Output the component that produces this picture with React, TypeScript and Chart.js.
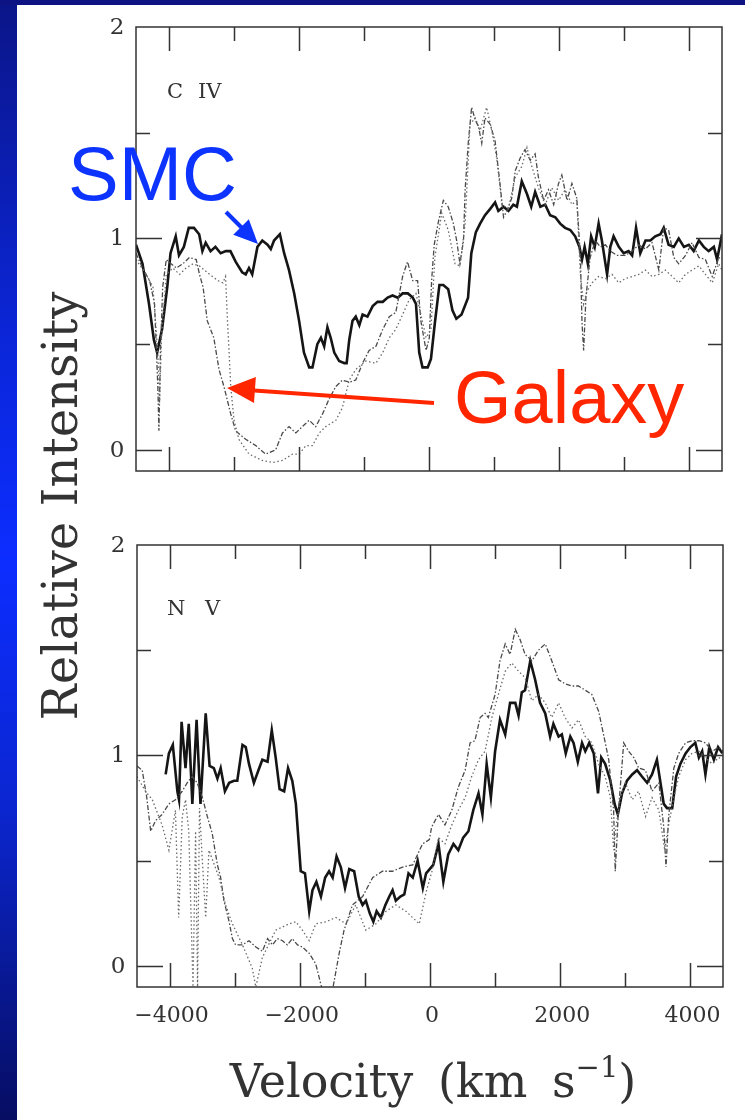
import React, { useEffect, useRef } from "react";
import { Chart, registerables } from "chart.js";

Chart.register(...registerables);

// ---------- axis ticks ----------
const xTickValues = [-4000, -3000, -2000, -1000, 0, 1000, 2000, 3000, 4000];
const xTickLabels = ["\u22124000", "", "\u22122000", "", "0", "", "2000", "", "4000"];
const yTickValues = [0, 0.5, 1, 1.5];
const yTickLabels = ["0", "1", "2"];
const yLabelValues = [0, 1, 2];

// ---------- C IV panel ----------
const civSmc: [number, number][] = [
  [-4500, 0.97], [-4400, 0.88], [-4300, 0.69], [-4225, 0.52], [-4175, 0.46], [-4100, 0.57], [-4020, 0.77],
  [-3970, 0.93], [-3890, 1.01], [-3840, 0.92], [-3765, 0.96], [-3690, 1.05], [-3610, 1.05], [-3530, 1.02],
  [-3480, 0.94], [-3430, 0.98], [-3355, 0.94], [-3280, 0.96], [-3200, 0.93], [-3120, 0.94], [-3050, 0.94],
  [-2970, 0.89], [-2870, 0.84], [-2815, 0.83], [-2765, 0.86], [-2715, 0.83], [-2635, 0.96], [-2560, 0.99],
  [-2480, 0.97], [-2430, 0.95], [-2380, 0.99], [-2290, 1.02], [-2225, 0.93], [-2150, 0.85], [-2070, 0.74],
  [-1995, 0.61], [-1920, 0.46], [-1840, 0.39], [-1790, 0.39], [-1715, 0.5], [-1660, 0.53], [-1610, 0.49],
  [-1560, 0.58], [-1510, 0.53], [-1455, 0.46], [-1380, 0.42], [-1300, 0.41], [-1265, 0.41], [-1225, 0.52],
  [-1175, 0.61], [-1125, 0.63], [-1070, 0.59], [-1020, 0.64], [-945, 0.63], [-865, 0.68], [-790, 0.7],
  [-710, 0.7], [-635, 0.72], [-560, 0.73], [-480, 0.72], [-405, 0.74], [-325, 0.74], [-250, 0.72],
  [-200, 0.69], [-150, 0.46], [-100, 0.39], [-20, 0.39], [30, 0.43], [90, 0.6], [160, 0.78], [220, 0.78],
  [295, 0.76], [360, 0.66], [420, 0.62], [500, 0.64], [600, 0.72], [650, 0.93], [720, 1.03], [785, 1.07],
  [860, 1.11], [940, 1.14], [1015, 1.17], [1065, 1.13], [1145, 1.15], [1220, 1.13], [1295, 1.16],
  [1350, 1.15], [1425, 1.27], [1505, 1.21], [1570, 1.15], [1630, 1.22], [1710, 1.15], [1785, 1.16],
  [1860, 1.11], [1940, 1.1], [2015, 1.07], [2090, 1.05], [2170, 1.04], [2245, 1.01], [2310, 0.96],
  [2350, 0.9], [2390, 0.96], [2440, 0.88], [2490, 1.01], [2545, 0.96], [2605, 1.07], [2655, 0.99],
  [2735, 0.83], [2785, 0.96], [2835, 1.01], [2915, 0.96], [2990, 0.93], [3065, 0.94], [3120, 0.92],
  [3180, 1.05], [3245, 0.93], [3325, 0.99], [3400, 0.99], [3475, 1.01], [3555, 1.02], [3605, 1.05],
  [3680, 0.97], [3760, 0.96], [3835, 1.0], [3915, 0.96], [3990, 0.97], [4065, 0.94], [4145, 0.99],
  [4220, 0.96], [4295, 0.94], [4375, 0.96], [4425, 0.9], [4500, 1.02],
];

const civGalaxyDashed: [number, number][] = [
  [-4500, 0.93], [-4400, 0.86], [-4290, 0.8], [-4215, 0.69], [-4165, 0.3], [-4148, 0.09], [-4125, 0.46],
  [-4090, 0.77], [-4035, 0.9], [-3960, 0.88], [-3880, 0.86], [-3780, 0.88], [-3680, 0.91], [-3575, 0.9],
  [-3525, 0.83], [-3470, 0.77], [-3405, 0.61], [-3305, 0.53], [-3225, 0.38], [-3150, 0.3], [-3045, 0.17],
  [-2970, 0.09], [-2815, 0.05], [-2660, 0.02], [-2510, -0.02], [-2355, 0.0], [-2250, 0.08], [-2150, 0.11],
  [-2045, 0.08], [-1945, 0.11], [-1840, 0.14], [-1740, 0.11], [-1635, 0.17], [-1535, 0.24], [-1430, 0.3],
  [-1330, 0.33], [-1225, 0.32], [-1125, 0.33], [-1020, 0.41], [-920, 0.47], [-815, 0.49], [-710, 0.57],
  [-610, 0.63], [-510, 0.65], [-405, 0.82], [-330, 0.89], [-250, 0.8], [-175, 0.8], [-125, 0.61],
  [-45, 0.47], [5, 0.53], [40, 0.8], [80, 0.97], [145, 1.08], [220, 1.18], [295, 1.15], [375, 1.07],
  [425, 0.99], [475, 0.88], [530, 0.99], [555, 1.23], [605, 1.46], [655, 1.62], [710, 1.56], [760, 1.53],
  [810, 1.45], [860, 1.57], [940, 1.54], [1015, 1.46], [1090, 1.26], [1145, 1.1], [1195, 1.13],
  [1270, 1.19], [1325, 1.32], [1400, 1.38], [1475, 1.42], [1555, 1.37], [1630, 1.4], [1680, 1.29],
  [1760, 1.18], [1835, 1.23], [1915, 1.16], [1990, 1.26], [2040, 1.3], [2120, 1.18], [2195, 1.26],
  [2270, 1.19], [2325, 0.91], [2350, 0.6], [2375, 0.47], [2410, 0.72], [2475, 0.91], [2555, 0.99],
  [2630, 0.96], [2710, 0.97], [2785, 0.94], [2885, 0.92], [3015, 0.92], [3120, 0.94], [3220, 0.97],
  [3325, 0.95], [3425, 0.98], [3530, 0.85], [3605, 1.05], [3680, 1.04], [3760, 0.91], [3835, 0.88],
  [3940, 0.92], [4040, 0.98], [4145, 0.91], [4245, 0.9], [4350, 0.82], [4450, 0.91], [4500, 0.9],
];

const civGalaxyDotted: [number, number][] = [
  [-4500, 0.9], [-4345, 0.83], [-4240, 0.77], [-4165, 0.46], [-4138, 0.22], [-4108, 0.53], [-4035, 0.83],
  [-3935, 0.86], [-3830, 0.83], [-3730, 0.86], [-3625, 0.88], [-3525, 0.87], [-3370, 0.83], [-3240, 0.8],
  [-3165, 0.79], [-3125, 0.82], [-3095, 0.61], [-3070, 0.46], [-3045, 0.3], [-2995, 0.14], [-2920, 0.05],
  [-2765, -0.02], [-2560, -0.05], [-2405, -0.06], [-2250, -0.05], [-2095, -0.02], [-1995, -0.02],
  [-1890, 0.02], [-1790, 0.02], [-1685, 0.08], [-1585, 0.11], [-1430, 0.14], [-1330, 0.2], [-1225, 0.33],
  [-1125, 0.38], [-970, 0.42], [-815, 0.41], [-710, 0.46], [-610, 0.53], [-510, 0.57], [-405, 0.64],
  [-305, 0.71], [-200, 0.74], [-125, 0.64], [-45, 0.53], [30, 0.57], [90, 0.91], [195, 1.12], [295, 1.04],
  [400, 0.88], [475, 0.87], [555, 1.07], [630, 1.54], [710, 1.57], [785, 1.51], [885, 1.62], [965, 1.51],
  [1040, 1.38], [1120, 1.16], [1220, 1.14], [1325, 1.29], [1425, 1.34], [1505, 1.43], [1580, 1.34],
  [1680, 1.24], [1785, 1.16], [1885, 1.24], [1990, 1.18], [2090, 1.23], [2195, 1.16], [2270, 1.18],
  [2325, 0.83], [2375, 0.69], [2425, 0.75], [2505, 0.79], [2605, 0.82], [2710, 0.81], [2810, 0.83],
  [2915, 0.79], [3015, 0.81], [3120, 0.82], [3220, 0.83], [3325, 0.85], [3425, 0.82], [3530, 0.83],
  [3630, 0.85], [3735, 0.82], [3835, 0.79], [3940, 0.83], [4040, 0.85], [4145, 0.87], [4245, 0.83],
  [4350, 0.79], [4450, 0.88], [4500, 0.85],
];

// ---------- N V panel ----------
const nvSmc: [number, number][] = [
  [-4060, 0.91], [-4010, 1.01], [-3950, 1.05], [-3880, 0.83], [-3855, 0.79], [-3815, 1.16], [-3755, 0.94],
  [-3705, 1.15], [-3650, 0.77], [-3585, 1.17], [-3525, 0.77], [-3445, 1.2], [-3385, 0.95], [-3320, 0.94],
  [-3265, 0.89], [-3215, 0.94], [-3150, 0.83], [-3085, 0.87], [-3010, 0.88], [-2960, 0.88], [-2880, 1.05],
  [-2830, 1.04], [-2780, 0.96], [-2705, 0.87], [-2635, 0.93], [-2575, 0.98], [-2495, 0.97], [-2430, 1.12],
  [-2370, 0.99], [-2310, 0.84], [-2240, 0.83], [-2180, 0.94], [-2115, 0.88], [-2060, 0.77], [-1985, 0.45],
  [-1920, 0.44], [-1855, 0.26], [-1805, 0.36], [-1745, 0.4], [-1675, 0.33], [-1610, 0.42], [-1550, 0.45],
  [-1495, 0.42], [-1435, 0.52], [-1370, 0.47], [-1305, 0.37], [-1240, 0.46], [-1165, 0.45], [-1095, 0.33],
  [-1035, 0.29], [-985, 0.31], [-925, 0.25], [-870, 0.21], [-820, 0.26], [-755, 0.23], [-685, 0.29],
  [-625, 0.33], [-575, 0.36], [-525, 0.31], [-455, 0.33], [-395, 0.34], [-330, 0.44], [-265, 0.42],
  [-190, 0.5], [-110, 0.37], [-60, 0.44], [50, 0.48], [130, 0.58], [205, 0.4], [280, 0.53], [360, 0.58],
  [435, 0.55], [510, 0.61], [590, 0.64], [665, 0.74], [745, 0.82], [805, 0.72], [870, 0.96], [935, 0.8],
  [1000, 1.02], [1075, 1.17], [1155, 1.1], [1230, 1.25], [1310, 1.25], [1360, 1.19], [1410, 1.3],
  [1460, 1.31], [1540, 1.45], [1615, 1.36], [1690, 1.25], [1770, 1.2], [1845, 1.09], [1895, 1.15],
  [1975, 1.09], [2025, 1.1], [2085, 1.01], [2155, 1.09], [2205, 1.06], [2270, 0.97], [2335, 1.06],
  [2385, 1.02], [2445, 1.06], [2515, 1.01], [2580, 0.82], [2630, 0.99], [2690, 0.96], [2770, 0.88],
  [2835, 0.77], [2885, 0.72], [2950, 0.82], [3025, 0.88], [3105, 0.91], [3180, 0.93], [3255, 0.9],
  [3335, 0.87], [3410, 0.91], [3485, 0.98], [3540, 0.87], [3590, 0.77], [3640, 0.75], [3720, 0.75],
  [3780, 0.9], [3845, 0.96], [3925, 1.01], [4000, 1.04], [4075, 1.06], [4130, 0.99], [4180, 1.02],
  [4230, 0.91], [4290, 1.04], [4360, 0.98], [4425, 1.04], [4490, 1.01],
];

const nvGalaxyDashed: [number, number][] = [
  [-4500, 0.95], [-4420, 0.93], [-4350, 0.8], [-4290, 0.64], [-4215, 0.69], [-4115, 0.72], [-4010, 0.77],
  [-3910, 0.79], [-3805, 0.83], [-3730, 0.87], [-3650, 0.9], [-3575, 0.87], [-3495, 0.8], [-3420, 0.71],
  [-3345, 0.63], [-3265, 0.48], [-3215, 0.42], [-3165, 0.31], [-3085, 0.21], [-3035, 0.13], [-2985, 0.1],
  [-2880, 0.1], [-2780, 0.12], [-2675, 0.09], [-2575, 0.07], [-2495, 0.13], [-2420, 0.1], [-2345, 0.13],
  [-2265, 0.12], [-2190, 0.1], [-2115, 0.13], [-2035, 0.1], [-1960, 0.09], [-1855, 0.06], [-1755, 0.01],
  [-1650, -0.12], [-1500, -0.12], [-1395, 0.06], [-1320, 0.17], [-1190, 0.29], [-1035, 0.33], [-880, 0.42],
  [-730, 0.45], [-575, 0.45], [-420, 0.47], [-265, 0.48], [-115, 0.58], [-10, 0.6], [25, 0.66], [130, 0.72],
  [230, 0.67], [335, 0.74], [435, 0.85], [540, 0.93], [615, 1.06], [690, 1.07], [770, 1.18], [845, 1.2],
  [895, 1.18], [1000, 1.29], [1075, 1.45], [1155, 1.53], [1230, 1.48], [1310, 1.6], [1385, 1.55],
  [1460, 1.48], [1565, 1.45], [1665, 1.5], [1770, 1.53], [1870, 1.45], [1975, 1.36], [2075, 1.34],
  [2180, 1.33], [2280, 1.33], [2385, 1.31], [2485, 1.29], [2590, 1.21], [2665, 1.1], [2745, 0.98],
  [2820, 0.74], [2845, 0.45], [2895, 0.74], [2975, 1.06], [3050, 1.02], [3130, 0.99], [3205, 0.94],
  [3310, 0.93], [3410, 0.83], [3515, 0.87], [3590, 0.66], [3625, 0.47], [3665, 0.71], [3745, 0.94],
  [3820, 1.01], [3925, 1.06], [4025, 1.07], [4130, 1.07], [4230, 1.06], [4335, 1.02], [4435, 1.04],
  [4500, 1.02],
];

const nvGalaxyDotted: [number, number][] = [
  [-4500, 0.9], [-4370, 0.83], [-4265, 0.79], [-4115, 0.67], [-4010, 0.55], [-3910, 0.74], [-3860, 0.23],
  [-3805, 0.71], [-3755, 0.79], [-3705, 0.64], [-3640, -0.1], [-3600, 0.64], [-3570, -0.1], [-3540, 0.75],
  [-3500, 0.52], [-3445, 0.23], [-3395, 0.55], [-3240, 0.42], [-3140, 0.29], [-3035, 0.2], [-2880, 0.1],
  [-2730, -0.01], [-2675, -0.1], [-2575, 0.04], [-2370, 0.17], [-2165, 0.2], [-2060, 0.21], [-1960, 0.17],
  [-1855, 0.12], [-1755, 0.2], [-1600, 0.21], [-1445, 0.23], [-1290, 0.2], [-1140, 0.29], [-985, 0.17],
  [-830, 0.2], [-675, 0.26], [-525, 0.29], [-370, 0.26], [-165, 0.2], [-60, 0.35], [30, 0.45], [130, 0.61],
  [230, 0.58], [335, 0.67], [435, 0.74], [540, 0.8], [640, 0.9], [745, 0.98], [845, 1.02], [950, 1.18],
  [1050, 1.29], [1155, 1.4], [1255, 1.44], [1360, 1.4], [1460, 1.37], [1565, 1.26], [1665, 1.29],
  [1770, 1.25], [1870, 1.18], [1975, 1.25], [2075, 1.18], [2180, 1.13], [2280, 1.17], [2385, 1.09],
  [2485, 1.06], [2590, 0.96], [2690, 0.9], [2770, 0.8], [2820, 0.55], [2855, 0.66], [2925, 0.8],
  [3000, 0.87], [3105, 0.79], [3205, 0.83], [3310, 0.71], [3410, 0.8], [3515, 0.74], [3605, 0.55],
  [3665, 0.67], [3745, 0.8], [3820, 0.9], [3925, 0.98], [4025, 1.01], [4130, 1.02], [4230, 0.99],
  [4335, 0.96], [4435, 0.99], [4500, 0.98],
];

const SERIF = '"DejaVu Serif", "Liberation Serif", serif';
const INK = "#333";

const framePlugin = {
  id: "frame",
  afterDatasetsDraw(chart: any, _args: any, opts: any) {
    const { ctx, chartArea: a, scales } = chart;
    const xs = scales.x;
    const ys = scales.y;
    ctx.save();
    ctx.strokeStyle = INK;
    ctx.lineWidth = 1.5;
    ctx.setLineDash([]);
    ctx.strokeRect(a.left, a.top, a.right - a.left, a.bottom - a.top);
    ctx.beginPath();
    xTickValues.forEach((v) => {
      const px = Math.round(xs.getPixelForValue(v)) + 0.5;
      const len = v % 2000 === 0 ? 24 : 14;
      ctx.moveTo(px, a.top);
      ctx.lineTo(px, a.top + len);
      ctx.moveTo(px, a.bottom);
      ctx.lineTo(px, a.bottom - len);
    });
    yTickValues.forEach((v) => {
      const py = Math.round(ys.getPixelForValue(v)) + 0.5;
      const len = Number.isInteger(v) ? 26 : 14;
      ctx.moveTo(a.left, py);
      ctx.lineTo(a.left + len, py);
      ctx.moveTo(a.right, py);
      ctx.lineTo(a.right - len, py);
    });
    ctx.stroke();

    ctx.fillStyle = INK;
    ctx.font = `23px ${SERIF}`;
    ctx.textAlign = "center";
    ctx.textBaseline = "middle";
    yLabelValues.forEach((v, i) => {
      ctx.fillText(yTickLabels[i], a.left - 19, ys.getPixelForValue(v) + 1);
    });
    if (opts.showX) {
      ctx.font = `22px ${SERIF}`;
      xTickValues.forEach((v, i) => {
        if (xTickLabels[i]) ctx.fillText(xTickLabels[i], xs.getPixelForValue(v) + 2, a.bottom + 29);
      });
    }
    ctx.font = `21px ${SERIF}`;
    ctx.textAlign = "left";
    ctx.fillText(opts.ion, a.left + opts.ionDx, a.top + opts.ionDy);
    ctx.fillText(opts.stage, a.left + opts.stageDx, a.top + opts.ionDy);
    ctx.restore();
  },
};

function toXY(arr: [number, number][]) {
  return arr.map(([x, y]) => ({ x, y }));
}

function makeDatasets(smc: [number, number][], dashed: [number, number][], dotted: [number, number][]) {
  return [
    {
      label: "Galaxy (dotted)",
      data: toXY(dotted),
      borderColor: "#6a6a6a",
      borderWidth: 1.3,
      borderDash: [1.5, 2.5],
      pointRadius: 0,
      tension: 0,
    },
    {
      label: "Galaxy (dashed)",
      data: toXY(dashed),
      borderColor: "#4a4a4a",
      borderWidth: 1.3,
      borderDash: [5, 2, 1.5, 2],
      pointRadius: 0,
      tension: 0,
    },
    {
      label: "SMC",
      data: toXY(smc),
      borderColor: "#151515",
      borderWidth: 2.6,
      pointRadius: 0,
      tension: 0,
    },
  ];
}

type PanelProps = {
  top: number;
  height: number;
  padding: { left: number; right: number; top: number; bottom: number };
  smc: [number, number][];
  dashed: [number, number][];
  dotted: [number, number][];
  frameOpts: any;
};

function Panel({ top, height, padding, smc, dashed, dotted, frameOpts }: PanelProps) {
  const ref = useRef<HTMLCanvasElement | null>(null);
  useEffect(() => {
    if (!ref.current) return;
    const chart = new Chart(ref.current, {
      type: "line",
      data: { datasets: makeDatasets(smc, dashed, dotted) as any },
      options: {
        animation: false,
        responsive: false,
        maintainAspectRatio: false,
        devicePixelRatio: 1,
        layout: { padding },
        scales: {
          x: { type: "linear", min: -4500, max: 4500, display: false },
          y: { type: "linear", min: -0.1, max: 2, display: false },
        },
        plugins: {
          legend: { display: false },
          tooltip: { enabled: false },
          frame: frameOpts,
        } as any,
      },
      plugins: [framePlugin as any],
    });
    return () => chart.destroy();
  }, []);
  return (
    <canvas
      ref={ref}
      width={745}
      height={height}
      style={{ position: "absolute", left: 0, top, width: 745, height }}
    />
  );
}

function arrowHead(tx: number, ty: number, fx: number, fy: number, len: number, half: number) {
  const dx = tx - fx;
  const dy = ty - fy;
  const d = Math.hypot(dx, dy);
  const ux = dx / d;
  const uy = dy / d;
  const bx = tx - ux * len;
  const by = ty - uy * len;
  return `${tx},${ty} ${bx - uy * half},${by + ux * half} ${bx + uy * half},${by - ux * half}`;
}

export default function App() {
  const blue = "#0d34ff";
  const red = "#ff2600";
  return (
    <div style={{ position: "absolute", left: 0, top: 0, width: 745, height: 1120, background: "#fff", overflow: "hidden" }}>
      <div
        style={{
          position: "absolute",
          left: 0,
          top: 0,
          width: 17,
          height: 1120,
          background: "linear-gradient(to bottom, #0b1588 0%, #0b26d8 30%, #0c2dff 50%, #0b26d0 72%, #060d62 100%)",
        }}
      />
      <div style={{ position: "absolute", left: 0, top: 0, width: 745, height: 5, background: "#0e1384" }} />
      <Panel
        top={0}
        height={500}
        padding={{ left: 136, right: 23, top: 27, bottom: 29 }}
        smc={civSmc}
        dashed={civGalaxyDashed}
        dotted={civGalaxyDotted}
        frameOpts={{ showX: false, ion: "C", stage: "IV", ionDx: 31, stageDx: 62, ionDy: 66 }}
      />
      <Panel
        top={500}
        height={620}
        padding={{ left: 137, right: 22, top: 45, bottom: 133 }}
        smc={nvSmc}
        dashed={nvGalaxyDashed}
        dotted={nvGalaxyDotted}
        frameOpts={{ showX: true, ion: "N", stage: "V", ionDx: 30, stageDx: 68, ionDy: 65 }}
      />
      <svg
        width={745}
        height={1120}
        style={{ position: "absolute", left: 0, top: 0, pointerEvents: "none" }}
      >
        <text
          transform="translate(77, 506) rotate(-90)"
          textAnchor="middle"
          fontFamily={SERIF}
          fontSize={48}
          fill={INK}
        >
          Relative Intensity
        </text>
        <text x={433} y={1097} textAnchor="middle" fontFamily={SERIF} fontSize={46} fill={INK} wordSpacing={10}>
          Velocity (km s
          <tspan dy={-20} fontSize={29}>
            {"\u22121"}
          </tspan>
          <tspan dy={20}>)</tspan>
        </text>
        <text x={68} y={200} fontFamily='"Liberation Sans", Arial, sans-serif' fontSize={76} fill={blue}>
          SMC
        </text>
        <line x1={226} y1={212} x2={247} y2={233} stroke={blue} strokeWidth={4} />
        <polygon points={arrowHead(258, 244, 226, 212, 24, 11)} fill={blue} />
        <text x={454} y={423} fontFamily='"Liberation Sans", Arial, sans-serif' fontSize={74} fill={red}>
          Galaxy
        </text>
        <line x1={434} y1={403} x2={248} y2={390} stroke={red} strokeWidth={4} />
        <polygon points={arrowHead(227, 388, 434, 403, 28, 13)} fill={red} />
      </svg>
    </div>
  );
}
